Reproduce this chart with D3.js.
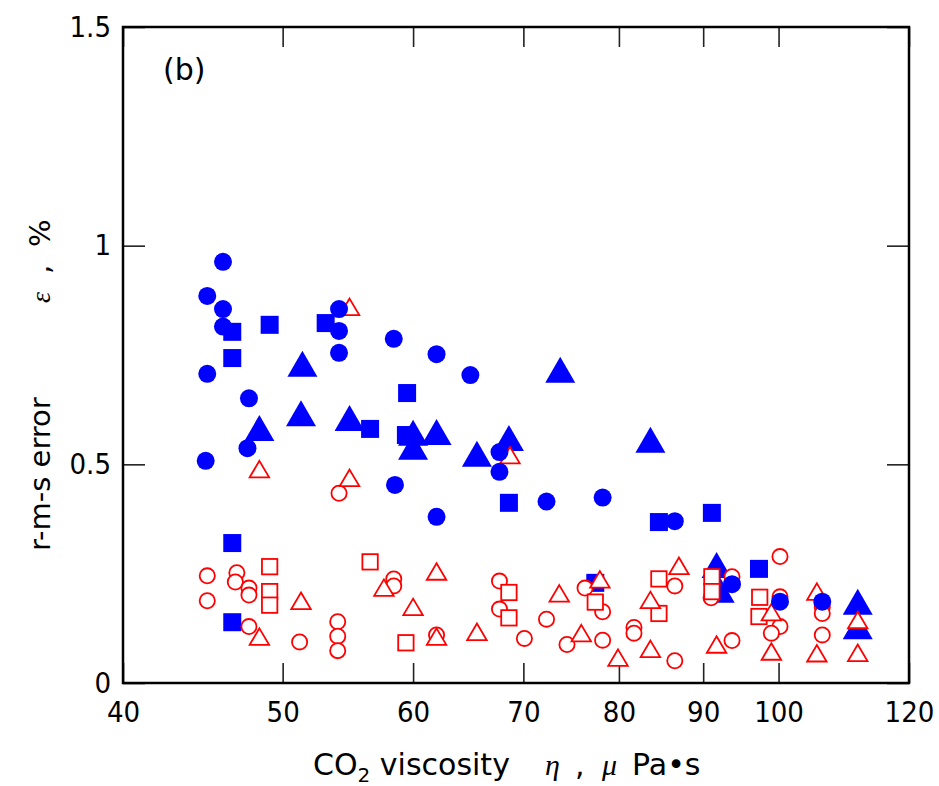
<!DOCTYPE html>
<html>
<head>
<meta charset="utf-8">
<script src="https://cdn.jsdelivr.net/npm/d3@7"></script>
<style>
  html, body { margin: 0; padding: 0; background: #fff; }
  svg { display: block; }
  .lab { font-family: "DejaVu Sans Condensed", "DejaVu Sans", sans-serif; font-stretch: condensed; }
  .ttl { font-family: "DejaVu Sans", sans-serif; }
  .grk { font-family: "Liberation Serif", "DejaVu Serif", serif; font-style: italic; }
</style>
</head>
<body>
<svg id="chart" width="939" height="786"></svg>
<script>
// ---- data ----
const xTickLabels = [40, 50, 60, 70, 80, 90, 100, 120];
const yTickLabels = [0, 0.5, 1, 1.5];

const blueCircleX = [46.0,45.0,46.0,46.0,45.0,47.7,47.6,44.9,54.1,54.1,54.1,58.4,62.0,65.0,58.5,62.0,67.7,67.7,72.3,78.2,86.5,93.7,100.2,106.3];
const blueCircleY = [0.963,0.885,0.855,0.815,0.707,0.651,0.537,0.508,0.855,0.805,0.755,0.787,0.752,0.704,0.453,0.380,0.528,0.483,0.415,0.424,0.370,0.226,0.186,0.186];

const blueSquareX = [46.6,46.6,49.1,53.1,59.5,56.5,59.4,68.6,84.6,91.1,97.3,77.4,46.6,46.6];
const blueSquareY = [0.803,0.743,0.819,0.823,0.663,0.581,0.567,0.412,0.368,0.389,0.261,0.229,0.320,0.139];

const blueTriangleX = [51.4,51.3,54.9,48.4,60.0,62.0,60.0,65.6,68.6,73.7,83.6,91.7,92.1,111.7,111.7];
const blueTriangleY = [0.730,0.617,0.606,0.583,0.572,0.574,0.540,0.524,0.560,0.716,0.556,0.270,0.213,0.186,0.130];

const redCircleX = [45.0,45.0,46.9,46.8,47.7,47.7,47.7,51.2,54.0,54.0,54.0,54.1,58.4,58.4,62.0,67.7,67.7,70.1,72.3,74.4,76.3,78.2,78.2,81.7,81.7,86.5,86.5,91.0,93.7,93.7,100.2,100.2,100.2,99.0,106.3,106.3,106.3];
const redCircleY = [0.245,0.188,0.252,0.231,0.217,0.201,0.129,0.094,0.140,0.107,0.074,0.434,0.238,0.222,0.110,0.233,0.169,0.102,0.146,0.088,0.217,0.163,0.098,0.127,0.114,0.222,0.051,0.195,0.243,0.097,0.289,0.197,0.129,0.114,0.174,0.159,0.110];

const redSquareX = [49.1,49.1,49.1,56.5,59.4,68.6,68.6,77.4,84.6,84.6,91.1,91.1,97.4,97.3];
const redSquareY = [0.266,0.209,0.178,0.277,0.092,0.207,0.149,0.185,0.238,0.159,0.243,0.209,0.196,0.152];

const redTriangleX = [54.9,48.4,54.9,68.7,51.3,48.4,57.6,62.0,60.0,62.0,65.6,73.6,75.9,77.9,79.9,83.6,83.6,87.0,91.7,99.0,99.0,105.5,105.5,111.7,111.7];
const redTriangleY = [0.860,0.489,0.469,0.521,0.188,0.106,0.218,0.255,0.174,0.106,0.117,0.205,0.114,0.237,0.058,0.190,0.078,0.268,0.088,0.072,0.162,0.209,0.068,0.144,0.069];

// ---- layout ----
const L = 123, R = 909, T = 27, B = 683;
const svg = d3.select("#chart");
const x = d3.scaleLog().domain([40, 120]).range([L, R]);
const y = d3.scaleLinear().domain([0, 1.5]).range([B, T]);

const zip = (xs, ys) => xs.map((v, i) => ({x: v, y: ys[i]}));

function styleAxis(g, showLabels) {
  g.select(".domain").remove();
  g.selectAll(".tick line").attr("stroke", "#222").attr("stroke-width", 1.6);
  g.selectAll(".tick text").attr("class", "lab").attr("font-size", 29).attr("fill", "#000")
    .style("display", showLabels ? null : "none");
}
svg.append("g").attr("transform", `translate(0,${B})`)
  .call(d3.axisBottom(x).tickValues(xTickLabels).tickFormat(String).tickSizeInner(-20).tickSizeOuter(0).tickPadding(18))
  .call(g => styleAxis(g, true));
svg.append("g").attr("transform", `translate(0,${T})`)
  .call(d3.axisTop(x).tickValues(xTickLabels).tickSizeInner(-20).tickSizeOuter(0))
  .call(g => styleAxis(g, false));
svg.append("g").attr("transform", `translate(${L},0)`)
  .call(d3.axisLeft(y).tickValues(yTickLabels).tickFormat(String).tickSizeInner(-22).tickSizeOuter(0).tickPadding(12))
  .call(g => styleAxis(g, true));
svg.append("g").attr("transform", `translate(${R},0)`)
  .call(d3.axisRight(y).tickValues(yTickLabels).tickSizeInner(-22).tickSizeOuter(0))
  .call(g => styleAxis(g, false));

// frame
svg.append("rect").attr("x", L).attr("y", T).attr("width", R - L).attr("height", B - T)
  .attr("fill", "none").attr("stroke", "#000").attr("stroke-width", 2.5);

// markers
const triPath = (w, h) => `M0,${-h/2}L${w/2},${h/2}L${-w/2},${h/2}Z`;
const gm = svg.append("g");

gm.append("g").selectAll("rect").data(zip(blueSquareX, blueSquareY)).join("rect")
  .attr("x", d => x(d.x) - 9).attr("y", d => y(d.y) - 9).attr("width", 18).attr("height", 18)
  .attr("fill", "#0000ff");
gm.append("g").selectAll("path").data(zip(blueTriangleX, blueTriangleY)).join("path")
  .attr("transform", d => `translate(${x(d.x)},${y(d.y)})`).attr("d", triPath(30, 26))
  .attr("fill", "#0000ff");
gm.append("g").selectAll("circle").data(zip(redCircleX, redCircleY)).join("circle")
  .attr("cx", d => x(d.x)).attr("cy", d => y(d.y)).attr("r", 7.6)
  .attr("fill", "#fff").attr("stroke", "#ff0000").attr("stroke-width", 1.8);
gm.append("g").selectAll("rect").data(zip(redSquareX, redSquareY)).join("rect")
  .attr("x", d => x(d.x) - 7.7).attr("y", d => y(d.y) - 7.7).attr("width", 15.4).attr("height", 15.4)
  .attr("fill", "#fff").attr("stroke", "#ff0000").attr("stroke-width", 1.8);
gm.append("g").selectAll("path").data(zip(redTriangleX, redTriangleY)).join("path")
  .attr("transform", d => `translate(${x(d.x)},${y(d.y)})`).attr("d", triPath(19.5, 16.5))
  .attr("fill", "#fff").attr("stroke", "#ff0000").attr("stroke-width", 1.8);
gm.append("g").selectAll("circle").data(zip(blueCircleX, blueCircleY)).join("circle")
  .attr("cx", d => x(d.x)).attr("cy", d => y(d.y)).attr("r", 9)
  .attr("fill", "#0000ff");

// panel label
svg.append("text").attr("class", "ttl").attr("x", 163).attr("y", 80).attr("font-size", 30).text("(b)");

// x title
const xt = svg.append("g").attr("font-size", 30);
const xtA = xt.append("text").attr("class", "ttl").attr("x", 313).attr("y", 775);
xtA.append("tspan").text("CO");
xtA.append("tspan").attr("font-size", 20).attr("dy", 7).text("2");
xtA.append("tspan").attr("dy", -7).text(" viscosity");
xt.append("text").attr("class", "grk").attr("x", 545).attr("y", 775).attr("font-size", 30).text("\u03b7");
xt.append("text").attr("class", "ttl").attr("x", 575).attr("y", 775).text(",");
xt.append("text").attr("class", "grk").attr("x", 602).attr("y", 775).attr("font-size", 30).text("\u03bc");
xt.append("text").attr("class", "ttl").attr("x", 632).attr("y", 775).text("Pa\u2022s");

// y title (rotated group: screen y = -u)
const yt = svg.append("g").attr("transform", "translate(50,0) rotate(-90)").attr("font-size", 29);
yt.append("text").attr("class", "ttl").attr("x", -551).attr("y", 0).text("r-m-s error");
yt.append("text").attr("class", "grk").attr("x", -303).attr("y", 0).attr("font-size", 28).text("\u03b5");
yt.append("text").attr("class", "ttl").attr("x", -274).attr("y", 0).text(",");
yt.append("text").attr("class", "ttl").attr("x", -247).attr("y", 0).text("%");
</script>
</body>
</html>
